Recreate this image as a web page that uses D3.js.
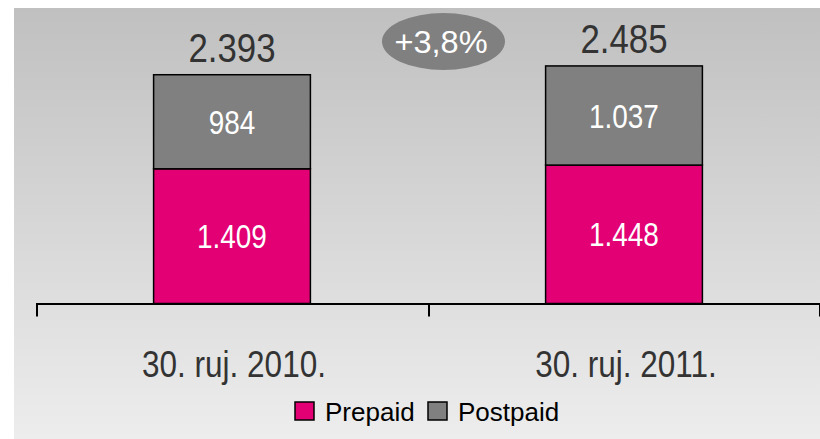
<!DOCTYPE html>
<html>
<head>
<meta charset="utf-8">
<script src="https://cdn.jsdelivr.net/npm/d3@7"></script>
<style>
  html, body { margin: 0; padding: 0; background: #ffffff; }
</style>
</head>
<body>
<div id="chart"></div>
<script>
/* ------------------------- Data ------------------------- */
var categories = ["30. ruj. 2010.", "30. ruj. 2011."];
var prepaid = [1409, 1448];
var postpaid = [984, 1037];
var seriesNames = ["Prepaid", "Postpaid"];
var growthLabel = "+3,8%";

var fmt = d3.formatLocale({ decimal: ",", thousands: ".", grouping: [3] }).format(",d");

/* ------------------------- Setup ------------------------- */
var width = 820,
    height = 439,
    axisY = 303.5,
    font = "'Liberation Sans', Arial, sans-serif";

var colors = { "Prepaid": "#e20074", "Postpaid": "#808080" };

var rows = categories.map(function(c, i) {
    return { cat: c, Prepaid: prepaid[i], Postpaid: postpaid[i], total: prepaid[i] + postpaid[i] };
});

var x = d3.scaleBand().domain(categories).range([36, 820]).padding(0);
var y = d3.scaleLinear().domain([0, 3000]).range([axisY, axisY - 286.8]);
var barW = x.bandwidth() * 0.4;

/* squeeze text horizontally (the original uses a condensed face) */
function condense(sel, k) {
    sel.attr("textLength", function() { return this.getComputedTextLength() * k; })
       .attr("lengthAdjust", "spacingAndGlyphs");
}

var svg = d3.select("#chart").append("svg")
    .attr("width", width)
    .attr("height", height);

/* Background gradient */
var grad = svg.append("defs").append("linearGradient")
    .attr("id", "bg").attr("x1", 0).attr("y1", 0).attr("x2", 0).attr("y2", 1);
grad.append("stop").attr("offset", "0%").attr("stop-color", "#c0c0c0");
grad.append("stop").attr("offset", "100%").attr("stop-color", "#ededed");

svg.append("rect")
    .attr("x", 14).attr("y", 8)
    .attr("width", width - 14).attr("height", height - 8)
    .attr("fill", "url(#bg)");

/* ------------------------- Bars ------------------------- */
var stack = d3.stack().keys(seriesNames)(rows);

svg.append("g").selectAll("g")
    .data(stack)
    .enter().append("g")
        .attr("fill", function(d) { return colors[d.key]; })
    .selectAll("rect")
    .data(function(d) { return d; })
    .enter().append("rect")
        .attr("x", function(d) { return x(d.data.cat) + (x.bandwidth() - barW) / 2; })
        .attr("y", function(d) { return y(d[1]); })
        .attr("width", barW)
        .attr("height", function(d) { return y(d[0]) - y(d[1]); })
        .attr("stroke", "#000")
        .attr("stroke-width", 1.5);

/* Segment labels */
svg.append("g").selectAll("g")
    .data(stack)
    .enter().append("g")
    .selectAll("text")
    .data(function(d) { return d; })
    .enter().append("text")
        .attr("x", function(d) { return x(d.data.cat) + x.bandwidth() / 2; })
        .attr("y", function(d) { return (y(d[0]) + y(d[1])) / 2 + 12; })
        .attr("text-anchor", "middle")
        .attr("font-family", font)
        .attr("font-size", 34)
        .attr("fill", "#ffffff")
        .text(function(d) { return fmt(d[1] - d[0]); })
        .call(condense, 0.82);

/* Totals */
svg.append("g").selectAll("text")
    .data(rows)
    .enter().append("text")
        .attr("x", function(d) { return x(d.cat) + x.bandwidth() / 2; })
        .attr("y", function(d) { return y(d.total) - 13; })
        .attr("text-anchor", "middle")
        .attr("font-family", font)
        .attr("font-size", 40)
        .attr("fill", "#333333")
        .text(function(d) { return fmt(d.total); })
        .call(condense, 0.87);

/* ------------------------- Axis ------------------------- */
var axis = svg.append("g").attr("stroke", "#000").attr("stroke-width", 2);
axis.append("line")
    .attr("x1", x.range()[0]).attr("x2", x.range()[1])
    .attr("y1", axisY + 0.5).attr("y2", axisY + 0.5);

var tickPos = categories.map(function(c) { return x(c); }).concat([x.range()[1] - 1]);
axis.selectAll("line.tick")
    .data(tickPos)
    .enter().append("line")
        .attr("class", "tick")
        .attr("x1", function(d) { return d + 1; }).attr("x2", function(d) { return d + 1; })
        .attr("y1", axisY).attr("y2", axisY + 13);

svg.append("g").selectAll("text")
    .data(categories)
    .enter().append("text")
        .attr("x", function(d) { return x(d) + x.bandwidth() / 2 + 2; })
        .attr("y", 376.5)
        .attr("text-anchor", "middle")
        .attr("font-family", font)
        .attr("font-size", 36)
        .attr("fill", "#333333")
        .text(function(d) { return d; })
        .call(condense, 0.875);

/* ------------------------- Growth bubble ------------------------- */
svg.append("ellipse")
    .attr("cx", 443.5).attr("cy", 41.5)
    .attr("rx", 61.5).attr("ry", 28.5)
    .attr("fill", "#808080");

svg.append("text")
    .attr("x", 441).attr("y", 53)
    .attr("text-anchor", "middle")
    .attr("font-family", font)
    .attr("font-size", 31)
    .attr("fill", "#ffffff")
    .text(growthLabel)
    .call(condense, 1.05);

/* ------------------------- Legend ------------------------- */
var legendX = [295, 428];
var legend = svg.append("g").selectAll("g")
    .data(seriesNames)
    .enter().append("g")
        .attr("transform", function(d, i) { return "translate(" + legendX[i] + ",402)"; });

legend.append("rect")
    .attr("width", 19).attr("height", 18)
    .attr("fill", function(d) { return colors[d]; })
    .attr("stroke", "#000")
    .attr("stroke-width", 1.5);

legend.append("text")
    .attr("x", 30).attr("y", 19)
    .attr("font-family", font)
    .attr("font-size", 26)
    .attr("fill", "#000")
    .text(function(d) { return d; });
</script>
</body>
</html>
